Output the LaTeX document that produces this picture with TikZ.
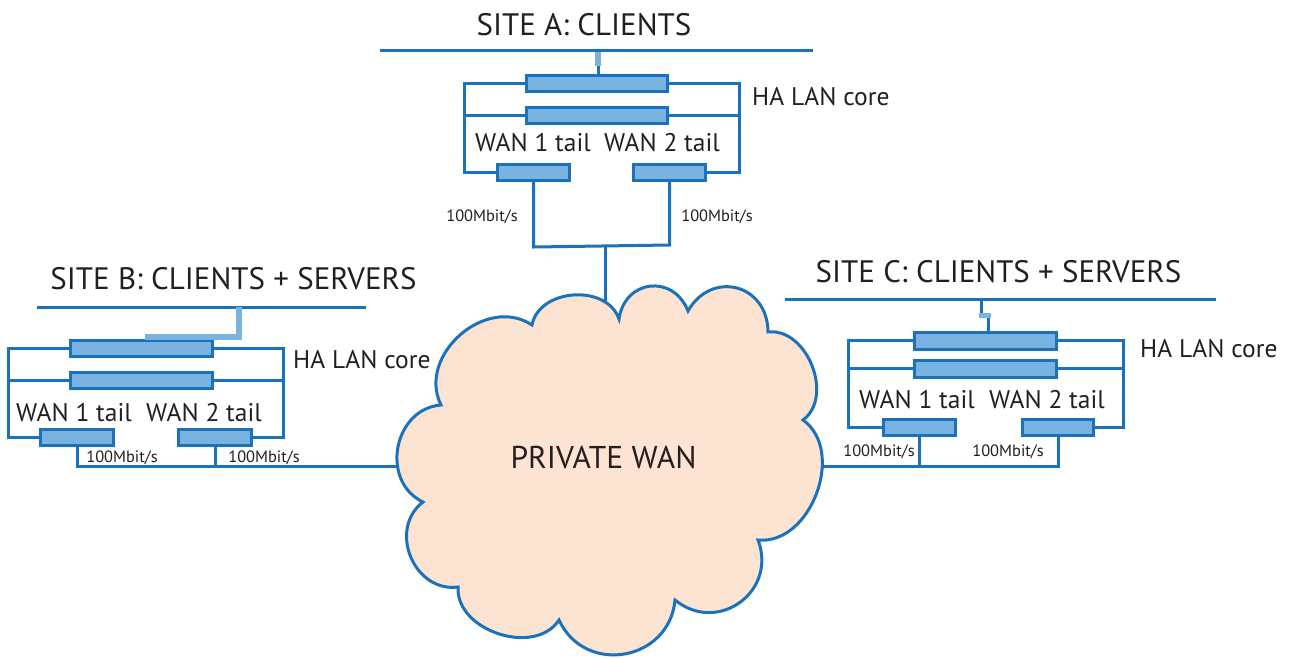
\documentclass[tikz,border=0pt]{standalone}
\usepackage{fontspec}
\setmainfont{PT Sans}
\definecolor{wire}{RGB}{27,114,186}
\definecolor{swfill}{RGB}{122,179,225}
\definecolor{cloudfill}{RGB}{253,227,210}
\definecolor{ink}{RGB}{35,31,32}
\tikzset{
  wireline/.style={draw=wire, line width=3pt},
  stubline/.style={draw=swfill, line width=6pt},
  swbox/.style={draw=wire, fill=swfill, line width=3pt, rectangle, inner sep=0pt, minimum height=16pt},
  corebox/.style={swbox, minimum width=141pt},
  tailbox/.style={swbox, minimum width=72pt},
  titletext/.style={text=ink, font=\fontsize{31}{34}\selectfont, inner sep=0pt},
  labeltext/.style={text=ink, font=\fontsize{25.5}{29}\selectfont, inner sep=0pt},
  speedtext/.style={text=ink, font=\fontsize{16.4}{18}\selectfont, inner sep=0pt},
  cloudtext/.style={text=ink, font=\fontsize{31.5}{34}\selectfont, inner sep=0pt},
}
\begin{document}
\begin{tikzpicture}[x=1pt, y=-1pt]
\useasboundingbox (0,0) rectangle (1290,657);

% ---------------- SITE A ----------------
\node[titletext] (tA) at (584,25) {SITE A: CLIENTS};
\coordinate (lanAL) at (380,50);
\coordinate (lanAR) at (813,50);
\draw[wireline] (lanAL) -- (lanAR);
\node[corebox] (Atop) at (597,83.5) {};
\node[corebox] (Amid) at (597,115.5) {};
\node[tailbox] (A1) at (533.5,172.5) {};
\node[tailbox] (A2) at (669.5,172.5) {};
\coordinate (AstubT) at (598,52);
\coordinate (AstubB) at (598,66);
\draw[wireline] (AstubB) -- (Atop.north -| AstubB);
\draw[stubline, line width=6pt] (AstubT) -- (AstubB);
\coordinate (AfL) at (464,83.5);
\coordinate (AfR) at (739,83.5);
\draw[wireline] (Atop.west) -- (AfL) |- (A1.west);
\draw[wireline] (Amid.west) -- (Amid.west -| AfL);
\draw[wireline] (Atop.east) -- (AfR) |- (A2.east);
\draw[wireline] (Amid.east) -- (Amid.east -| AfR);
\coordinate (AjL) at (533.5,247);
\coordinate (AjR) at (669.5,245);
\coordinate (Aj) at (605,246);
\coordinate (Acl) at (605,312);
\draw[wireline] (A1.south) -- (AjL) -- (AjR) -- (A2.south);
\draw[wireline] (Aj) -- (Acl);
\node[labeltext] (A1l) at (533,143) {WAN 1 tail};
\node[labeltext] (A2l) at (662,143) {WAN 2 tail};
\node[labeltext, anchor=west] (Ahl) at (752,97) {HA LAN core};
\node[speedtext] (A1s) at (482,217) {100Mbit/s};
\node[speedtext] (A2s) at (717,217) {100Mbit/s};

% ---------------- SITE B ----------------
\node[titletext] (tB) at (233.5,279) {SITE B: CLIENTS + SERVERS};
\coordinate (lanBL) at (37,307);
\coordinate (lanBR) at (366,307);
\draw[wireline] (lanBL) -- (lanBR);
\node[corebox, minimum width=142pt] (Btop) at (141.5,348.5) {};
\node[corebox, minimum width=142pt] (Bmid) at (141.5,380) {};
\node[tailbox, minimum width=73pt] (B1) at (77,437.5) {};
\node[tailbox, minimum width=73pt] (B2) at (215,437.5) {};
\coordinate (BstubT) at (239,307);
\coordinate (BstubC) at (239,337);
\coordinate (BstubE) at (145,337);
\draw[stubline, line width=6pt] (BstubT) -- (BstubC) -- (BstubE);
\coordinate (BfL) at (8,348.5);
\coordinate (BfR) at (283,348.5);
\draw[wireline] (Btop.west) -- (BfL) |- (B1.west);
\draw[wireline] (Bmid.west) -- (Bmid.west -| BfL);
\draw[wireline] (Btop.east) -- (BfR) |- (B2.east);
\draw[wireline] (Bmid.east) -- (Bmid.east -| BfR);
\coordinate (Bcl) at (410,466);
\draw[wireline] (B1.south) |- (Bcl);
\draw[wireline] (B2.south) -- (B2.south |- Bcl);
\node[labeltext] (B1l) at (74,413) {WAN 1 tail};
\node[labeltext] (B2l) at (204,413) {WAN 2 tail};
\node[labeltext, anchor=west] (Bhl) at (293,360) {HA LAN core};
\node[speedtext] (B1s) at (122,458) {100Mbit/s};
\node[speedtext] (B2s) at (264,458) {100Mbit/s};

% ---------------- SITE C ----------------
\node[titletext] (tC) at (998.5,272) {SITE C: CLIENTS + SERVERS};
\coordinate (lanCL) at (785,299);
\coordinate (lanCR) at (1216,299);
\draw[wireline] (lanCL) -- (lanCR);
\node[corebox, minimum width=142pt, minimum height=17pt] (Ctop) at (985.5,340.5) {};
\node[corebox, minimum width=142pt, minimum height=17pt] (Cmid) at (985.5,368.5) {};
\node[tailbox] (C1) at (919.5,427) {};
\node[tailbox, minimum width=71pt] (C2) at (1058,427) {};
\coordinate (CstubT) at (981,299);
\coordinate (CstubM) at (981,314);
\coordinate (CstubN) at (988,317);
\draw[wireline] (CstubT) -- (CstubM);
\draw[wireline] (CstubN) -- (Ctop.north -| CstubN);
\draw[stubline, line width=5pt] (979,315.5) -- (991,315.5);
\coordinate (CfL) at (848,340.5);
\coordinate (CfR) at (1123,340.5);
\draw[wireline] (Ctop.west) -- (CfL) |- (C1.west);
\draw[wireline] (Cmid.west) -- (Cmid.west -| CfL);
\draw[wireline] (Ctop.east) -- (CfR) |- (C2.east);
\draw[wireline] (Cmid.east) -- (Cmid.east -| CfR);
\coordinate (Ccl) at (810,466);
\draw[wireline] (C2.south) |- (Ccl);
\draw[wireline] (C1.south) -- (C1.south |- Ccl);
\node[labeltext] (C1l) at (917,400) {WAN 1 tail};
\node[labeltext] (C2l) at (1047,400) {WAN 2 tail};
\node[labeltext, anchor=west] (Chl) at (1140,349) {HA LAN core};
\node[speedtext] (C1s) at (879,452) {100Mbit/s};
\node[speedtext] (C2s) at (1008,452) {100Mbit/s};

% ---------------- CLOUD ----------------
\draw[draw=wire, fill=cloudfill, line width=3pt, line join=miter]
  (532,325) to[bend left=75, looseness=1.10] (619,319)
            to[bend left=75, looseness=1.48] (688,311)
            to[bend left=75, looseness=1.48] (768,332)
            to[bend left=75, looseness=1.06] (803,420)
            to[bend left=75, looseness=1.06] (758,540)
            to[bend left=75, looseness=1.38] (675,600)
            to[bend left=75, looseness=1.34] (559,620)
            to[bend left=75, looseness=1.06] (458,587)
            to[bend left=75, looseness=1.24] (423,502)
            to[bend left=75, looseness=1.24] (441,405)
            to[bend left=75, looseness=1.17] (532,325) -- cycle;
\node[cloudtext] (wan) at (603.5,457) {PRIVATE WAN};
\end{tikzpicture}
\end{document}
